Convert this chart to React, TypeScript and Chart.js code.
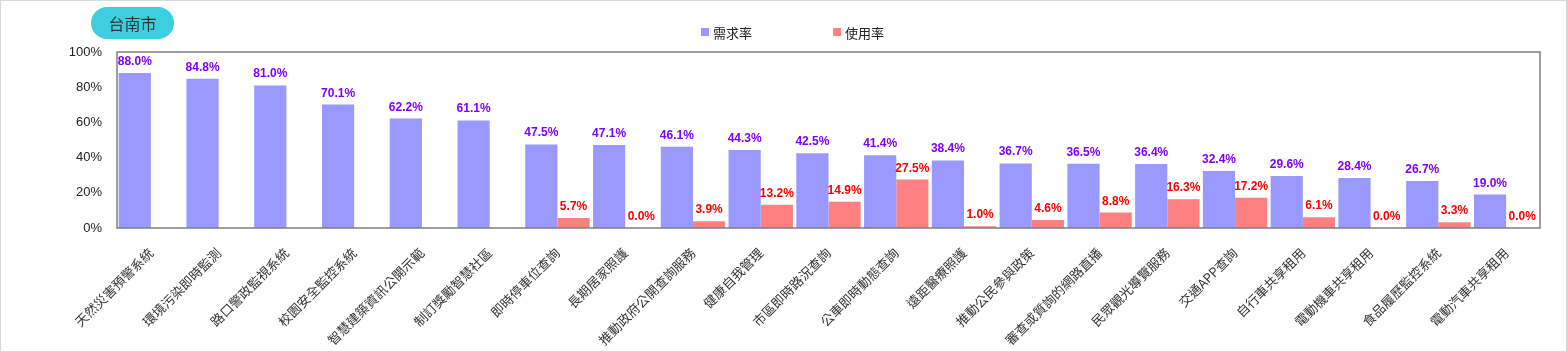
import React, { useEffect, useRef } from "react";
import { Chart, registerables } from "chart.js";

Chart.register(...registerables);

const categories: string[] = [
  "天然災害預警系統",
  "環境污染即時監測",
  "路口警政監視系統",
  "校園安全監控系統",
  "智慧建築資訊公開示範",
  "制訂獎勵智慧社區",
  "即時停車位查詢",
  "長期居家照護",
  "推動政府公開查詢服務",
  "健康自我管理",
  "市區即時路況查詢",
  "公車即時動態查詢",
  "遠距醫療照護",
  "推動公民參與政策",
  "審查或質詢的網路直播",
  "民眾觀光導覽服務",
  "交通APP查詢",
  "自行車共享租用",
  "電動機車共享租用",
  "食品履歷監控系統",
  "電動汽車共享租用",
];

const demandRate: (number | null)[] = [
  88.0, 84.8, 81.0, 70.1, 62.2, 61.1, 47.5, 47.1, 46.1, 44.3, 42.5, 41.4, 38.4,
  36.7, 36.5, 36.4, 32.4, 29.6, 28.4, 26.7, 19.0,
];

const usageRate: (number | null)[] = [
  null, null, null, null, null, null, 5.7, 0.0, 3.9, 13.2, 14.9, 27.5, 1.0, 4.6,
  8.8, 16.3, 17.2, 6.1, 0.0, 3.3, 0.0,
];

const yTickValues: number[] = [0, 20, 40, 60, 80, 100];

const seriesNames = ["需求率", "使用率"];
const seriesColors = ["#9999ff", "#ff8080"];
const labelColors = ["#8000ff", "#ff0000"];
const cityTitle = "台南市";

const valueLabelPlugin = {
  id: "valueLabels",
  afterDatasetsDraw(chart: any) {
    const ctx = chart.ctx;
    chart.data.datasets.forEach((ds: any, i: number) => {
      const meta = chart.getDatasetMeta(i);
      meta.data.forEach((bar: any, j: number) => {
        const v = ds.data[j];
        if (v === null || v === undefined) return;
        ctx.save();
        ctx.font = "bold 12px 'Liberation Sans', Arial, sans-serif";
        ctx.fillStyle = labelColors[i];
        ctx.textAlign = "center";
        ctx.textBaseline = "alphabetic";
        ctx.fillText(v.toFixed(1) + "%", bar.x, bar.y - 8);
        ctx.restore();
      });
    });
  },
};

const framePlugin = {
  id: "plotFrame",
  afterDatasetsDraw(chart: any) {
    const { ctx, chartArea } = chart;
    ctx.save();
    ctx.strokeStyle = "#7f7f7f";
    ctx.lineWidth = 1.5;
    ctx.strokeRect(
      chartArea.left,
      chartArea.top,
      chartArea.right - chartArea.left,
      chartArea.bottom - chartArea.top
    );
    ctx.restore();
  },
};

export default function App() {
  const canvasRef = useRef<HTMLCanvasElement | null>(null);

  useEffect(() => {
    if (!canvasRef.current) return;
    const chart = new Chart(canvasRef.current, {
      type: "bar",
      data: {
        labels: categories,
        datasets: [
          {
            label: seriesNames[0],
            data: demandRate,
            backgroundColor: seriesColors[0],
            categoryPercentage: 0.95,
            barPercentage: 1.0,
          },
          {
            label: seriesNames[1],
            data: usageRate,
            backgroundColor: seriesColors[1],
            categoryPercentage: 0.95,
            barPercentage: 1.0,
          },
        ],
      },
      options: {
        responsive: false,
        animation: false,
        layout: { padding: { left: 0, right: 27, top: 52, bottom: 0 } },
        plugins: {
          legend: { display: false },
          title: { display: false },
          tooltip: { enabled: false },
        },
        scales: {
          x: {
            grid: { display: false, drawTicks: false },
            border: { display: false },
            ticks: {
              autoSkip: false,
              maxRotation: 45,
              minRotation: 45,
              padding: 17,
              color: "#333333",
              font: { size: 13, family: "'Noto Sans CJK TC', sans-serif" },
            },
            afterFit(scale: any) {
              scale.height = 124;
            },
          },
          y: {
            min: 0,
            max: 100,
            grid: { display: false, drawTicks: false },
            border: { display: false },
            afterBuildTicks(scale: any) {
              scale.ticks = yTickValues.map((v) => ({ value: v }));
            },
            ticks: {
              padding: 15,
              color: "#222222",
              font: { size: 13, family: "'Liberation Sans', Arial, sans-serif" },
              callback: (v: any) => v + "%",
            },
            afterFit(scale: any) {
              scale.width = 117;
            },
          },
        },
      },
      plugins: [framePlugin, valueLabelPlugin],
    });
    return () => chart.destroy();
  }, []);

  return (
    <div
      style={{
        position: "fixed",
        left: 0,
        top: 0,
        width: 1567,
        height: 352,
        boxSizing: "border-box",
        border: "1px solid #d9d9d9",
        background: "#ffffff",
        overflow: "hidden",
      }}
    >
      <canvas
        ref={canvasRef}
        width={1567}
        height={352}
        style={{ position: "absolute", left: -1, top: -1 }}
      />
      <div
        style={{
          position: "absolute",
          left: 90,
          top: 6,
          width: 83,
          height: 32,
          borderRadius: 16,
          background: "#3ccfe0",
          color: "#333333",
          fontFamily: "'Noto Sans CJK TC', sans-serif",
          fontSize: 16,
          lineHeight: "32px",
          textAlign: "center",
        }}
      >
        {cityTitle}
      </div>
      {seriesNames.map((name, i) => (
        <div
          key={name}
          style={{
            position: "absolute",
            left: i === 0 ? 700 : 832,
            top: 22,
            height: 18,
            display: "flex",
            alignItems: "center",
            fontFamily: "'Noto Sans CJK TC', sans-serif",
            fontSize: 13,
            color: "#222222",
          }}
        >
          <span
            style={{
              display: "inline-block",
              width: 8,
              height: 8,
              background: seriesColors[i],
              marginRight: 4,
            }}
          />
          <span>{name}</span>
        </div>
      ))}
    </div>
  );
}
